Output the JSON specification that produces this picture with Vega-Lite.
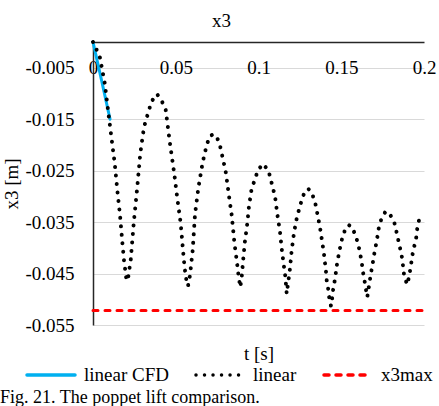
{
  "$schema": "https://vega.github.io/schema/vega-lite/v6.json",
  "width": 331,
  "height": 283,
  "autosize": {"type": "none"},
  "padding": {"left": 93, "top": 42, "right": 15, "bottom": 81},
  "background": "white",
  "config": {
    "view": {"stroke": null},
    "font": "Liberation Serif"
  },
  "title": {
    "text": "Fig. 21. The poppet lift comparison.",
    "orient": "bottom",
    "anchor": "start",
    "frame": "group",
    "font": "Liberation Serif",
    "fontSize": 18,
    "fontWeight": "normal",
    "color": "black",
    "dx": -93,
    "offset": 4
  },
  "data": {
    "values": [
      {"series": "linear CFD", "t": 0, "x3": 0},
      {"series": "linear CFD", "t": 0.005, "x3": -0.0072},
      {"series": "linear CFD", "t": 0.0103, "x3": -0.015},
      {"series": "x3max", "t": 0, "x3": -0.0522},
      {"series": "x3max", "t": 0.2, "x3": -0.0522},
      {"series": "linear", "t": 0, "x3": 0},
      {"series": "linear", "t": 0.00405, "x3": -0.00279},
      {"series": "linear", "t": 0.00707, "x3": -0.00797},
      {"series": "linear", "t": 0.00906, "x3": -0.01318},
      {"series": "linear", "t": 0.01106, "x3": -0.01838},
      {"series": "linear", "t": 0.01311, "x3": -0.02357},
      {"series": "linear", "t": 0.01468, "x3": -0.02877},
      {"series": "linear", "t": 0.01631, "x3": -0.03365},
      {"series": "linear", "t": 0.0177, "x3": -0.03885},
      {"series": "linear", "t": 0.01873, "x3": -0.04242},
      {"series": "linear", "t": 0.02012, "x3": -0.04598},
      {"series": "linear", "t": 0.0206, "x3": -0.0464},
      {"series": "linear", "t": 0.02115, "x3": -0.04598},
      {"series": "linear", "t": 0.02278, "x3": -0.04242},
      {"series": "linear", "t": 0.02459, "x3": -0.03526},
      {"series": "linear", "t": 0.02659, "x3": -0.02877},
      {"series": "linear", "t": 0.02858, "x3": -0.02162},
      {"series": "linear", "t": 0.03082, "x3": -0.01655},
      {"series": "linear", "t": 0.03384, "x3": -0.01318},
      {"series": "linear", "t": 0.03565, "x3": -0.01142},
      {"series": "linear", "t": 0.03867, "x3": -0.01012},
      {"series": "linear", "t": 0.04169, "x3": -0.01156},
      {"series": "linear", "t": 0.04393, "x3": -0.01318},
      {"series": "linear", "t": 0.04532, "x3": -0.01674},
      {"series": "linear", "t": 0.04671, "x3": -0.02019},
      {"series": "linear", "t": 0.04894, "x3": -0.0252},
      {"series": "linear", "t": 0.05094, "x3": -0.03039},
      {"series": "linear", "t": 0.05299, "x3": -0.03526},
      {"series": "linear", "t": 0.05438, "x3": -0.04047},
      {"series": "linear", "t": 0.05541, "x3": -0.04404},
      {"series": "linear", "t": 0.0568, "x3": -0.0471},
      {"series": "linear", "t": 0.0574, "x3": -0.04745},
      {"series": "linear", "t": 0.05861, "x3": -0.04534},
      {"series": "linear", "t": 0.06024, "x3": -0.04047},
      {"series": "linear", "t": 0.06163, "x3": -0.03351},
      {"series": "linear", "t": 0.06362, "x3": -0.02844},
      {"series": "linear", "t": 0.06628, "x3": -0.02337},
      {"series": "linear", "t": 0.0687, "x3": -0.02},
      {"series": "linear", "t": 0.07069, "x3": -0.01825},
      {"series": "linear", "t": 0.07269, "x3": -0.01795},
      {"series": "linear", "t": 0.07474, "x3": -0.01838},
      {"series": "linear", "t": 0.07674, "x3": -0.02014},
      {"series": "linear", "t": 0.08018, "x3": -0.0252},
      {"series": "linear", "t": 0.08236, "x3": -0.03039},
      {"series": "linear", "t": 0.08381, "x3": -0.03365},
      {"series": "linear", "t": 0.08538, "x3": -0.03885},
      {"series": "linear", "t": 0.08683, "x3": -0.04242},
      {"series": "linear", "t": 0.08804, "x3": -0.04567},
      {"series": "linear", "t": 0.089, "x3": -0.04765},
      {"series": "linear", "t": 0.08985, "x3": -0.04567},
      {"series": "linear", "t": 0.09082, "x3": -0.04209},
      {"series": "linear", "t": 0.09184, "x3": -0.03865},
      {"series": "linear", "t": 0.09323, "x3": -0.03526},
      {"series": "linear", "t": 0.09426, "x3": -0.03189},
      {"series": "linear", "t": 0.09589, "x3": -0.02844},
      {"series": "linear", "t": 0.09789, "x3": -0.02669},
      {"series": "linear", "t": 0.09952, "x3": -0.02501},
      {"series": "linear", "t": 0.10254, "x3": -0.0237},
      {"series": "linear", "t": 0.10592, "x3": -0.02487},
      {"series": "linear", "t": 0.10737, "x3": -0.02663},
      {"series": "linear", "t": 0.10858, "x3": -0.02825},
      {"series": "linear", "t": 0.10997, "x3": -0.02994},
      {"series": "linear", "t": 0.11136, "x3": -0.03345},
      {"series": "linear", "t": 0.11299, "x3": -0.0369},
      {"series": "linear", "t": 0.11402, "x3": -0.04014},
      {"series": "linear", "t": 0.11541, "x3": -0.04372},
      {"series": "linear", "t": 0.11619, "x3": -0.04548},
      {"series": "linear", "t": 0.11704, "x3": -0.04891},
      {"series": "linear", "t": 0.11903, "x3": -0.04404},
      {"series": "linear", "t": 0.12006, "x3": -0.04047},
      {"series": "linear", "t": 0.12145, "x3": -0.0371},
      {"series": "linear", "t": 0.12344, "x3": -0.03365},
      {"series": "linear", "t": 0.12508, "x3": -0.03203},
      {"series": "linear", "t": 0.12628, "x3": -0.03039},
      {"series": "linear", "t": 0.12852, "x3": -0.02877},
      {"series": "linear", "t": 0.13021, "x3": -0.02858},
      {"series": "linear", "t": 0.13214, "x3": -0.0293},
      {"series": "linear", "t": 0.13414, "x3": -0.03105},
      {"series": "linear", "t": 0.13613, "x3": -0.03429},
      {"series": "linear", "t": 0.13716, "x3": -0.03604},
      {"series": "linear", "t": 0.13879, "x3": -0.03949},
      {"series": "linear", "t": 0.13958, "x3": -0.04125},
      {"series": "linear", "t": 0.14079, "x3": -0.0447},
      {"series": "linear", "t": 0.14121, "x3": -0.04632},
      {"series": "linear", "t": 0.14218, "x3": -0.04813},
      {"series": "linear", "t": 0.14278, "x3": -0.04977},
      {"series": "linear", "t": 0.14381, "x3": -0.05133},
      {"series": "linear", "t": 0.14459, "x3": -0.04957},
      {"series": "linear", "t": 0.1452, "x3": -0.04782},
      {"series": "linear", "t": 0.14622, "x3": -0.04612},
      {"series": "linear", "t": 0.14761, "x3": -0.04275},
      {"series": "linear", "t": 0.14864, "x3": -0.04105},
      {"series": "linear", "t": 0.14967, "x3": -0.03936},
      {"series": "linear", "t": 0.15088, "x3": -0.03774},
      {"series": "linear", "t": 0.15287, "x3": -0.03604},
      {"series": "linear", "t": 0.15468, "x3": -0.03559},
      {"series": "linear", "t": 0.15668, "x3": -0.03604},
      {"series": "linear", "t": 0.15873, "x3": -0.03774},
      {"series": "linear", "t": 0.1603, "x3": -0.03936},
      {"series": "linear", "t": 0.16133, "x3": -0.04099},
      {"series": "linear", "t": 0.16236, "x3": -0.04275},
      {"series": "linear", "t": 0.16296, "x3": -0.04437},
      {"series": "linear", "t": 0.16393, "x3": -0.04612},
      {"series": "linear", "t": 0.16477, "x3": -0.04782},
      {"series": "linear", "t": 0.16574, "x3": -0.04957},
      {"series": "linear", "t": 0.16634, "x3": -0.04827},
      {"series": "linear", "t": 0.16798, "x3": -0.04489},
      {"series": "linear", "t": 0.169, "x3": -0.04306},
      {"series": "linear", "t": 0.16979, "x3": -0.04144},
      {"series": "linear", "t": 0.17082, "x3": -0.03969},
      {"series": "linear", "t": 0.17178, "x3": -0.03799},
      {"series": "linear", "t": 0.17263, "x3": -0.03624},
      {"series": "linear", "t": 0.17402, "x3": -0.03462},
      {"series": "linear", "t": 0.17644, "x3": -0.03312},
      {"series": "linear", "t": 0.17825, "x3": -0.03296},
      {"series": "linear", "t": 0.18006, "x3": -0.03384},
      {"series": "linear", "t": 0.18248, "x3": -0.03546},
      {"series": "linear", "t": 0.1835, "x3": -0.0371},
      {"series": "linear", "t": 0.18471, "x3": -0.03885},
      {"series": "linear", "t": 0.18592, "x3": -0.0406},
      {"series": "linear", "t": 0.18689, "x3": -0.04222},
      {"series": "linear", "t": 0.18749, "x3": -0.04404},
      {"series": "linear", "t": 0.1881, "x3": -0.04567},
      {"series": "linear", "t": 0.18991, "x3": -0.04715},
      {"series": "linear", "t": 0.19112, "x3": -0.04534},
      {"series": "linear", "t": 0.19196, "x3": -0.04372},
      {"series": "linear", "t": 0.19275, "x3": -0.04197},
      {"series": "linear", "t": 0.19353, "x3": -0.04033},
      {"series": "linear", "t": 0.19517, "x3": -0.03852},
      {"series": "linear", "t": 0.19559, "x3": -0.0369},
      {"series": "linear", "t": 0.19656, "x3": -0.03515},
      {"series": "linear", "t": 0.19801, "x3": -0.03345}
    ]
  },
  "resolve": {"axis": {"x": "independent"}},
  "layer": [
    {
      "transform": [{"filter": "datum.series === 'linear CFD'"}],
      "mark": {"type": "line", "strokeWidth": 3, "strokeCap": "round"},
      "encoding": {
        "x": {
          "field": "t", "type": "quantitative",
          "scale": {"domain": [0, 0.2], "nice": false},
          "axis": {
            "orient": "top", "title": "x3", "values": [0, 0.05, 0.1, 0.15, 0.2], "format": "~g",
            "labelFlush": false, "labelOverlap": false, "ticks": false, "tickSize": 0,
            "labelPadding": -25.6, "labelBaseline": "middle", "grid": false,
            "domain": true, "domainColor": "#262626", "domainWidth": 1.5,
            "labelFont": "Liberation Serif", "labelFontSize": 19, "labelColor": "black",
            "titleFont": "Liberation Serif", "titleFontSize": 19, "titleFontWeight": "normal", "titleColor": "black",
            "titleX": 128, "titleY": -22, "titleBaseline": "middle"
          }
        },
        "y": {
          "field": "x3", "type": "quantitative",
          "scale": {"domain": [-0.055, 0], "nice": false, "zero": false},
          "axis": {
            "title": "x3 [m]", "values": [-0.005, -0.015, -0.025, -0.035, -0.045, -0.055],
            "labelExpr": "'-' + format(abs(datum.value), '.3f')",
            "ticks": false, "tickSize": 0, "labelPadding": 19,
            "grid": true, "gridColor": "#d9d9d9", "gridWidth": 1,
            "domain": true, "domainColor": "#262626", "domainWidth": 1.5,
            "labelFont": "Liberation Serif", "labelFontSize": 19, "labelColor": "black",
            "titleFont": "Liberation Serif", "titleFontSize": 19, "titleFontWeight": "normal", "titleColor": "black",
            "titlePadding": 3
          }
        },
        "color": {
          "field": "series", "type": "nominal",
          "scale": {"domain": ["linear CFD", "linear", "x3max"], "range": ["#00B0F0", "#000000", "#FF0000"]},
          "legend": {
            "title": null, "orient": "none", "legendX": -68, "legendY": 307, "direction": "horizontal",
            "symbolType": "stroke", "symbolSize": 2304, "symbolStrokeWidth": 3.5,
            "labelFont": "Liberation Serif", "labelFontSize": 19, "labelColor": "black",
            "labelOffset": 7, "columnPadding": 20, "padding": 0, "labelLimit": 200,
            "encode": {"symbols": {"update": {"strokeCap": {"value": "round"}}}}
          }
        },
        "strokeDash": {
          "field": "series", "type": "nominal",
          "scale": {"domain": ["linear CFD", "linear", "x3max"], "range": [[1, 0], [0.01, 8.5], [5, 7]]},
          "legend": {"title": null}
        }
      }
    },
    {
      "transform": [{"filter": "datum.series === 'linear'"}],
      "mark": {"type": "line", "strokeWidth": 4, "strokeCap": "round"},
      "encoding": {
        "x": {"field": "t", "type": "quantitative", "axis": null},
        "y": {"field": "x3", "type": "quantitative"},
        "color": {"field": "series", "type": "nominal"},
        "strokeDash": {"field": "series", "type": "nominal"}
      }
    },
    {
      "transform": [{"filter": "datum.series === 'x3max'"}],
      "mark": {"type": "line", "strokeWidth": 3, "strokeCap": "round"},
      "encoding": {
        "x": {
          "field": "t", "type": "quantitative",
          "axis": {
            "orient": "bottom", "title": "t [s]", "labels": false, "ticks": false, "domain": false, "grid": false,
            "titleFont": "Liberation Serif", "titleFontSize": 19, "titleFontWeight": "normal", "titleColor": "black",
            "titlePadding": 19
          }
        },
        "y": {"field": "x3", "type": "quantitative"},
        "color": {"field": "series", "type": "nominal"},
        "strokeDash": {"field": "series", "type": "nominal"}
      }
    }
  ]
}
